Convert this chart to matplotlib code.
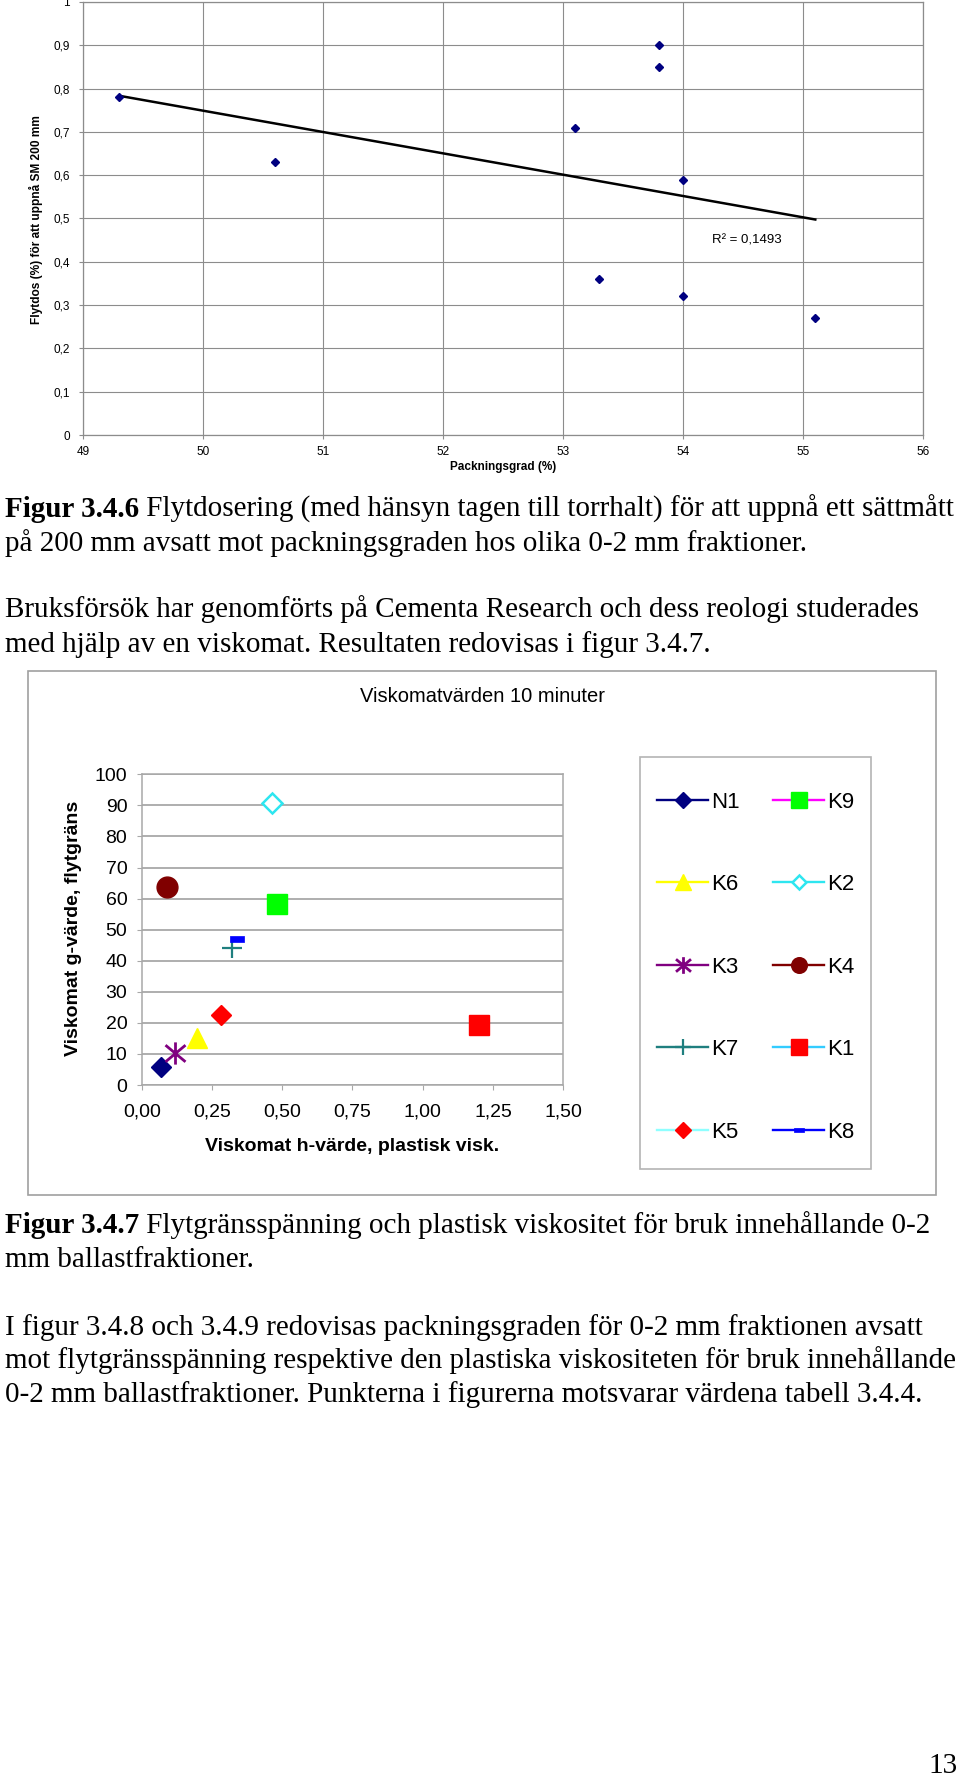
import numpy as np
import matplotlib
matplotlib.use("Agg")
import matplotlib.pyplot as plt
from matplotlib.patches import Rectangle
from matplotlib.path import Path

# ---------------- data ----------------
# Figure 3.4.6
pack_x = [49.3, 50.6, 53.1, 53.3, 53.8, 53.8, 54.0, 54.0, 55.1]
dose_y = [0.78, 0.63, 0.71, 0.36, 0.90, 0.85, 0.59, 0.32, 0.27]
top_xticks = [49, 50, 51, 52, 53, 54, 55, 56]
top_yticks = [0, 0.1, 0.2, 0.3, 0.4, 0.5, 0.6, 0.7, 0.8, 0.9, 1.0]
top_ylabels = ["0", "0,1", "0,2", "0,3", "0,4", "0,5", "0,6", "0,7", "0,8", "0,9", "1"]

# Figure 3.4.7 (legend order column-wise: N1,K6,K3,K7,K5 | K9,K2,K4,K1,K8)
series_names = ["N1", "K6", "K3", "K7", "K5", "K9", "K2", "K4", "K1", "K8"]
h_values = [0.07, 0.195, 0.118, 0.32, 0.283, 0.48, 0.465, 0.091, 1.20, 0.338]
g_values = [5.7, 15.0, 10.2, 44.2, 22.6, 58.3, 90.7, 63.8, 19.4, 47.0]
bot_xticks = [0, 0.25, 0.5, 0.75, 1.0, 1.25, 1.5]
bot_xlabels = ["0,00", "0,25", "0,50", "0,75", "1,00", "1,25", "1,50"]
bot_yticks = [0, 10, 20, 30, 40, 50, 60, 70, 80, 90, 100]

W, H = 960, 1776
fig = plt.figure(figsize=(W / 100, H / 100), dpi=100)
fig.patch.set_facecolor("white")

def fx(px):
    return px / W

def fy(py):
    return 1 - py / H

SANS = "Liberation Sans"
SERIF = "Liberation Serif"

# ---------------- top chart ----------------
L, R, T, B = 83.3, 923.3, 2.0, 435.0
ax1 = fig.add_axes([fx(L), fy(B), (R - L) / W, (B - T) / H])
ax1.set_xlim(49, 56)
ax1.set_ylim(0, 1)
ax1.set_xticks(top_xticks)
ax1.set_xticklabels([str(v) for v in top_xticks], family=SANS, fontsize=8.5)
ax1.set_yticks(top_yticks)
ax1.set_yticklabels(top_ylabels, family=SANS, fontsize=8.5)
ax1.grid(True, color="#8c8c8c", lw=0.8)
ax1.set_axisbelow(True)
for s in ax1.spines.values():
    s.set_color("#8c8c8c")
    s.set_linewidth(0.9)
ax1.tick_params(direction="out", length=3, color="#8c8c8c", labelcolor="black")
ax1.tick_params(axis="y", pad=6.5)
ax1.tick_params(axis="x", pad=5)

ax1.plot(pack_x, dose_y, ls="none", marker="D", ms=4.2, color="#000080", zorder=3)
coef = np.polyfit(pack_x, dose_y, 1)
xs = np.array([min(pack_x), max(pack_x)])
ax1.plot(xs, np.polyval(coef, xs), color="black", lw=1.8, zorder=2)
pred = np.polyval(coef, pack_x)
r2 = 1 - np.sum((np.array(dose_y) - pred) ** 2) / np.sum((np.array(dose_y) - np.mean(dose_y)) ** 2)
ax1.text(54.53, 0.449, "R\u00b2 = " + f"{r2:.4f}".replace(".", ","), family=SANS,
         fontsize=9.5, ha="center", va="center")
fig.text(fx(503), fy(467), "Packningsgrad (%)", family=SANS, fontsize=8.5,
         fontweight="bold", ha="center", va="center")
fig.text(fx(36), fy(220), "Flytdos (%) för att uppnå SM 200 mm", family=SANS,
         fontsize=8.6, fontweight="bold", rotation=90, ha="center", va="center")

# ---------------- body text ----------------
renderer = fig.canvas.get_renderer()
FS = 21

def para(x, y, bold, rest):
    xpos = fx(x)
    if bold:
        t = fig.text(xpos, fy(y), bold, family=SERIF, fontsize=FS,
                     fontweight="bold", va="baseline", ha="left")
        bb = t.get_window_extent(renderer=renderer)
        xpos = bb.x1 / W
    fig.text(xpos, fy(y), rest, family=SERIF, fontsize=FS, va="baseline", ha="left")

para(5, 516.7, "Figur 3.4.6", " Flytdosering (med hänsyn tagen till torrhalt) för att uppnå ett sättmått")
para(5, 550.7, None, "på 200 mm avsatt mot packningsgraden hos olika 0-2 mm fraktioner.")
para(5, 617.3, None, "Bruksförsök har genomförts på Cementa Research och dess reologi studerades")
para(5, 651.7, None, "med hjälp av en viskomat. Resultaten redovisas i figur 3.4.7.")
para(5, 1233.3, "Figur 3.4.7", " Flytgränsspänning och plastisk viskositet för bruk innehållande 0-2")
para(5, 1266.7, None, "mm ballastfraktioner.")
para(5, 1335.0, None, "I figur 3.4.8 och 3.4.9 redovisas packningsgraden för 0-2 mm fraktionen avsatt")
para(5, 1368.3, None, "mot flytgränsspänning respektive den plastiska viskositeten för bruk innehållande")
para(5, 1401.7, None, "0-2 mm ballastfraktioner. Punkterna i figurerna motsvarar värdena tabell 3.4.4.")
fig.text(fx(958), fy(1773), "13", family=SERIF, fontsize=FS, ha="right", va="baseline")

# ---------------- bottom chart ----------------
fig.patches.append(Rectangle((fx(28.3), fy(1195)), (936 - 28.3) / W, (1195 - 670.7) / H,
                             transform=fig.transFigure, fill=False,
                             edgecolor="#a0a0a0", lw=1.2))
fig.patches.append(Rectangle((fx(640), fy(1169)), (870.7 - 640) / W, (1169 - 757) / H,
                             transform=fig.transFigure, fill=False,
                             edgecolor="#b4b4b4", lw=1.2))

L2, R2, T2, B2 = 141.7, 563.3, 774.3, 1085.0
ax2 = fig.add_axes([fx(L2), fy(B2), (R2 - L2) / W, (B2 - T2) / H])
ax2.set_xlim(0, 1.5)
ax2.set_ylim(0, 100)
ax2.set_xticks(bot_xticks)
ax2.set_xticklabels(bot_xlabels, family=SANS, fontsize=14)
ax2.set_yticks(bot_yticks)
ax2.set_yticklabels([str(v) for v in bot_yticks], family=SANS, fontsize=14)
ax2.yaxis.grid(True, color="#a8a8a8", lw=1.3)
ax2.set_axisbelow(True)
for s in ax2.spines.values():
    s.set_color("#a8a8a8")
    s.set_linewidth(1.1)
ax2.tick_params(direction="out", length=3.6, color="#a8a8a8", labelcolor="black")
ax2.tick_params(axis="y", pad=6.8)
ax2.tick_params(axis="x", pad=9.8)

dash = Path([(-1, -0.42), (1, -0.42), (1, 0.42), (-1, 0.42), (-1, -0.42)],
            [Path.MOVETO, Path.LINETO, Path.LINETO, Path.LINETO, Path.CLOSEPOLY])
aster = Path([(0, -1), (0, 1), (-0.9, -0.75), (0.9, 0.75), (-0.9, 0.75), (0.9, -0.75)],
             [Path.MOVETO, Path.LINETO, Path.MOVETO, Path.LINETO, Path.MOVETO, Path.LINETO])

styles = {
    "N1": dict(marker="D", ms=10.5, color="#000080", mfc="#000080", mec="#000080"),
    "K6": dict(marker="^", ms=15, color="#ffff00", mfc="#ffff00", mec="#ffff00"),
    "K3": dict(marker=aster, ms=16, color="#800080", mfc="none", mec="#800080", mew=2),
    "K7": dict(marker="+", ms=15, color="#1f7f7f", mec="#1f7f7f", mew=1.6),
    "K5": dict(marker="D", ms=10.5, color="#8fffff", mfc="#ff0000", mec="#ff0000"),
    "K9": dict(marker="s", ms=15, color="#ff00ff", mfc="#00ff00", mec="#00ff00"),
    "K2": dict(marker="D", ms=10, color="#2ee6f0", mfc="white", mec="#2ee6f0", mew=1.8),
    "K4": dict(marker="o", ms=15, color="#800000", mfc="#800000", mec="#800000"),
    "K1": dict(marker="s", ms=15, color="#33ccff", mfc="#ff0000", mec="#ff0000"),
    "K8": dict(marker=dash, ms=9.6, color="#0000ff", mfc="#0000ff", mec="#0000ff", mew=0.5),
}
for name, hx, gy in zip(series_names, h_values, g_values):
    ax2.plot([hx], [gy], ls="-", lw=1.7, label=name, zorder=3, **styles[name])

fig.text(fx(482), fy(696.5), "Viskomatvärden 10 minuter", family=SANS, fontsize=14.5,
         ha="center", va="center")
fig.text(fx(352), fy(1146), "Viskomat h-värde, plastisk visk.", family=SANS, fontsize=14,
         fontweight="bold", ha="center", va="center")
fig.text(fx(74), fy(928), "Viskomat g-värde, flytgräns", family=SANS, fontsize=14,
         fontweight="bold", rotation=90, ha="center", va="center")

leg = fig.legend(*ax2.get_legend_handles_labels(), loc="upper left",
                 bbox_to_anchor=(fx(657.3), fy(791.5)), ncol=2, frameon=False,
                 borderpad=0, borderaxespad=0, handlelength=2.3, handletextpad=0.14,
                 columnspacing=1.49, labelspacing=2.77, markerscale=0.75,
                 prop=dict(family=SANS, size=16))

fig.savefig("out.png", dpi=100, facecolor="white")
